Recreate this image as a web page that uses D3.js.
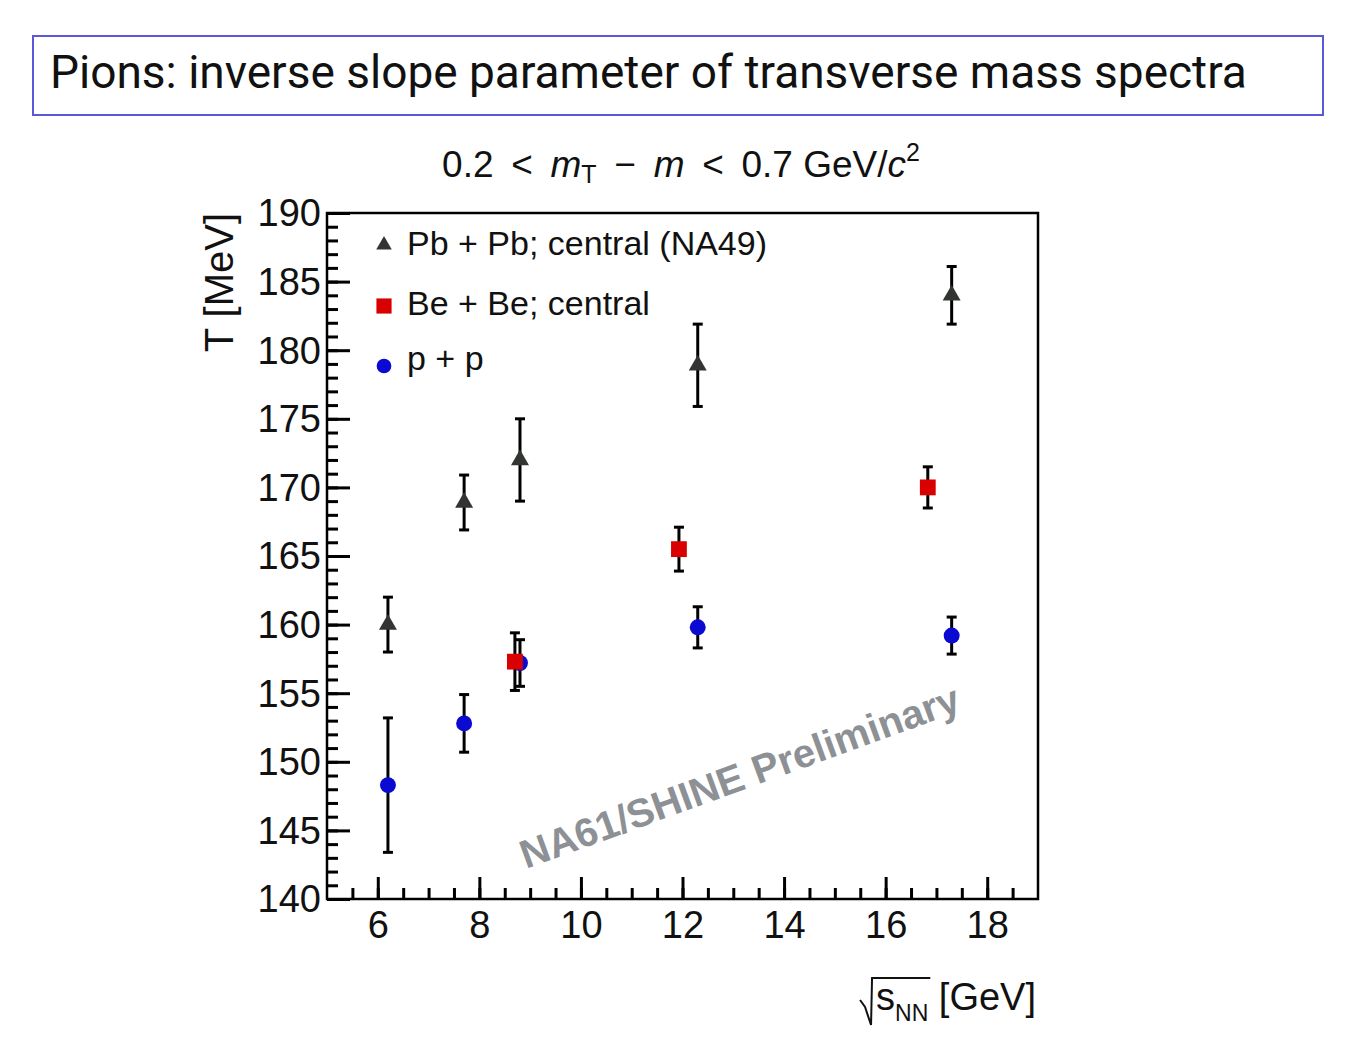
<!DOCTYPE html>
<html>
<head>
<meta charset="utf-8">
<script src="https://cdn.jsdelivr.net/npm/d3@7"></script>
<style>
  body { margin: 0; background: #fff; }
  text { font-family: "Liberation Sans", Arial, sans-serif; }
</style>
</head>
<body>
<svg id="chart"></svg>
<script>
// data: sqrt(s_NN) [GeV], T [MeV], error [MeV]
let pbEnergy = [6.2, 7.7, 8.8, 12.3, 17.3];
let pbT = [160.0, 168.9, 172.0, 178.9, 184.0];
let pbErr = [2.0, 2.0, 3.0, 3.0, 2.1];

let beEnergy = [8.7, 11.93, 16.83];
let beT = [157.3, 165.5, 170.0];
let beErr = [2.1, 1.6, 1.5];

let ppEnergy = [6.2, 7.7, 8.8, 12.3, 17.3];
let ppT = [148.3, 152.8, 157.2, 159.8, 159.2];
let ppErr = [4.9, 2.1, 1.7, 1.5, 1.35];

let xMajorTicks = [6, 8, 10, 12, 14, 16, 18];
let yMajorTicks = [140, 145, 150, 155, 160, 165, 170, 175, 180, 185, 190];

let legendNames = ["Pb + Pb; central (NA49)", "Be + Be; central", "p + p"];

let width = 1353;
let height = 1059;
let margin = { top: 213, right: 315, bottom: 160, left: 327 };

let svg = d3.select("#chart")
  .attr("width", width)
  .attr("height", height);

// slide title box
svg.append("rect")
  .attr("x", 33).attr("y", 36)
  .attr("width", 1290).attr("height", 79)
  .attr("fill", "none")
  .attr("stroke", "#5858d8")
  .attr("stroke-width", 2);

svg.append("text")
  .attr("x", 50).attr("y", 88)
  .style("font-family", "Roboto")
  .style("font-size", "46px")
  .attr("fill", "#111")
  .text("Pions: inverse slope parameter of transverse mass spectra");

// subtitle 0.2 < mT - m < 0.7 GeV/c^2
let sub = svg.append("text")
  .attr("x", 681).attr("y", 177)
  .attr("text-anchor", "middle")
  .style("font-size", "37px")
  .attr("fill", "#111");
sub.append("tspan").text("0.2 \u2009<\u2009 ");
sub.append("tspan").style("font-style", "italic").text("m");
sub.append("tspan").style("font-size", "25px").attr("dy", 6).text("T");
sub.append("tspan").attr("dy", -6).text(" \u2009−\u2009 ");
sub.append("tspan").style("font-style", "italic").text("m");
sub.append("tspan").text(" \u2009<\u2009 0.7 GeV/");
sub.append("tspan").style("font-style", "italic").text("c");
sub.append("tspan").style("font-size", "25px").attr("dy", -16).text("2");

let x = d3.scaleLinear()
  .domain([5, 19])
  .range([margin.left, width - margin.right]);

let y = d3.scaleLinear()
  .domain([140, 190])
  .range([height - margin.bottom, margin.top]);

// minor ticks first, majors on top
svg.append("g")
  .attr("transform", `translate(0,${height - margin.bottom})`)
  .call(d3.axisBottom(x).tickValues(d3.range(5.5, 19, 0.5)).tickSize(-11).tickFormat(""))
  .call(g => g.select(".domain").remove())
  .call(g => g.selectAll("line").attr("stroke-width", 3));

svg.append("g")
  .attr("transform", `translate(${margin.left},0)`)
  .call(d3.axisLeft(y).tickValues(d3.range(141, 190, 1)).tickSize(-11).tickFormat(""))
  .call(g => g.select(".domain").remove())
  .call(g => g.selectAll("line").attr("stroke-width", 3));

svg.append("g")
  .attr("transform", `translate(0,${height - margin.bottom})`)
  .call(d3.axisBottom(x).tickValues(xMajorTicks).tickSize(-22).tickPadding(12))
  .call(g => g.select(".domain").remove())
  .call(g => g.selectAll("line").attr("stroke-width", 3))
  .call(g => g.selectAll("text")
    .style("font-size", "38px")
    .attr("fill", "#111"));

svg.append("g")
  .attr("transform", `translate(${margin.left},0)`)
  .call(d3.axisLeft(y).tickValues(yMajorTicks).tickSize(-23).tickPadding(6))
  .call(g => g.select(".domain").remove())
  .call(g => g.selectAll("line").attr("stroke-width", 3))
  .call(g => g.selectAll("text")
    .style("font-size", "38px")
    .attr("dy", "0.34em")
    .attr("fill", "#111"));

// frame
svg.append("rect")
  .attr("x", margin.left)
  .attr("y", margin.top)
  .attr("width", width - margin.right - margin.left)
  .attr("height", height - margin.bottom - margin.top)
  .attr("fill", "none")
  .attr("stroke", "#000")
  .attr("stroke-width", 2.5);

// axis titles
svg.append("text")
  .attr("transform", "translate(233,213) rotate(-90)")
  .attr("text-anchor", "end")
  .style("font-size", "40px")
  .attr("fill", "#111")
  .text("T [MeV]");

let xt = svg.append("text")
  .attr("x", 1036).attr("y", 1010)
  .attr("text-anchor", "end")
  .style("font-size", "38px")
  .attr("fill", "#111");
xt.append("tspan").text("s");
xt.append("tspan").style("font-size", "23px").attr("dy", 11).text("NN");
xt.append("tspan").attr("dy", -11).text(" [GeV]");

// radical sign over s_NN
let node = xt.node();
let sx = node.getStartPositionOfChar(0).x;
let nnEnd = node.getEndPositionOfChar(2).x;
svg.append("path")
  .attr("d", `M${sx - 16},${1000} L${sx - 11},${1007} L${sx - 5},${1025} L${sx - 4},${978} L${nnEnd + 2},${978}`)
  .attr("fill", "none")
  .attr("stroke", "#111")
  .attr("stroke-width", 2);

// watermark
svg.append("text")
  .attr("transform", "translate(526,869) rotate(-20)")
  .style("font-size", "40px")
  .style("font-weight", "bold")
  .attr("fill", "#8d9195")
  .text("NA61/SHINE Preliminary");

function series(energy, temp, err) {
  return energy.map((e, i) => ({ e: e, t: temp[i], err: err[i] }));
}

function addErrorBars(data) {
  let g = svg.append("g").attr("stroke", "#000").attr("stroke-width", 3);
  g.selectAll(".bar").data(data).enter().append("line")
    .attr("x1", d => x(d.e)).attr("x2", d => x(d.e))
    .attr("y1", d => y(d.t - d.err)).attr("y2", d => y(d.t + d.err));
  g.selectAll(".capTop").data(data).enter().append("line")
    .attr("x1", d => x(d.e) - 5).attr("x2", d => x(d.e) + 5)
    .attr("y1", d => y(d.t + d.err)).attr("y2", d => y(d.t + d.err));
  g.selectAll(".capBot").data(data).enter().append("line")
    .attr("x1", d => x(d.e) - 5).attr("x2", d => x(d.e) + 5)
    .attr("y1", d => y(d.t - d.err)).attr("y2", d => y(d.t - d.err));
}

function addSymbols(data, type, size, color) {
  svg.append("g").selectAll("path")
    .data(data)
    .enter()
    .append("path")
      .attr("d", d3.symbol().type(type).size(size)())
      .attr("transform", d => `translate(${x(d.e)},${y(d.t)})`)
      .attr("fill", color);
}

let pp = series(ppEnergy, ppT, ppErr);
let be = series(beEnergy, beT, beErr);
let pb = series(pbEnergy, pbT, pbErr);

addErrorBars(pp);
addSymbols(pp, d3.symbolCircle, 200, "#0a0ad2");
addErrorBars(be);
addSymbols(be, d3.symbolSquare, 250, "#d80000");
addErrorBars(pb);
addSymbols(pb, d3.symbolTriangle, 140, "#333533");

// legend
let legendSymbols = [
  { type: d3.symbolTriangle, size: 105, color: "#333533", my: 245 },
  { type: d3.symbolSquare, size: 230, color: "#d80000", my: 306 },
  { type: d3.symbolCircle, size: 170, color: "#0a0ad2", my: 366 }
];
let legendBase = [255, 315, 370];

legendNames.forEach((name, i) => {
  let s = legendSymbols[i];
  svg.append("path")
    .attr("d", d3.symbol().type(s.type).size(s.size)())
    .attr("transform", `translate(384,${s.my})`)
    .attr("fill", s.color);
  svg.append("text")
    .attr("x", 407).attr("y", legendBase[i])
    .style("font-size", "34px")
    .attr("fill", "#111")
    .text(name);
});
</script>
</body>
</html>
